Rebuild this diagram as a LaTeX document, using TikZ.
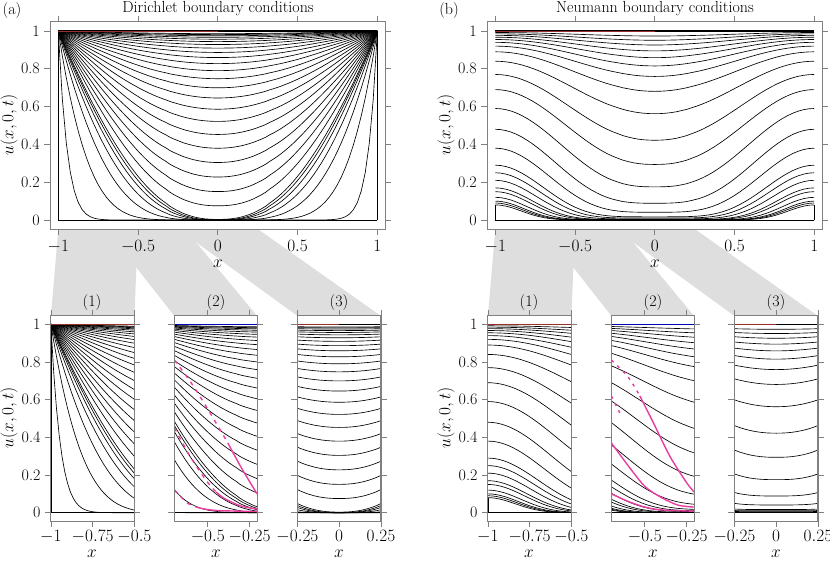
\documentclass[tikz,border=0pt]{standalone}
\usepackage{fontspec}
\begin{document}
\begin{tikzpicture}[x=1pt,y=-1pt,font=\fontsize{16}{19}\selectfont,
 declare function={
  G(\a,\c,\e,\p,\w)=\c+(\e-\c)*exp(max(\p*ln(max((1-cos(\w*\a))/(1-cos(\w)),0.0001)),-12));}]
\tikzset{fr/.style={draw=black!50,line width=1.1pt},tk/.style={draw=black!50,line width=0.8pt},
 cv/.style={black,line width=0.65pt},mg/.style={draw={rgb,255:red,235;green,60;blue,160},line width=1.4pt},
 gz/.style={fill=black!13},rl/.style={draw={rgb,255:red,150;green,50;blue,40},line width=0.5pt}}
\useasboundingbox (0,0) rectangle (830,562);
% gray zooms
\foreach \o in {0,437}{
 \begin{scope}[xshift=\o]
 \fill[gz] (58.3,229)--(138,229)--(134.4,316)--(50.9,316)--cycle;
 \fill[gz] (106.2,229)--(185.1,229)--(257.1,316)--(174.4,316)--cycle;
 \fill[gz] (177.9,229)--(257.7,229)--(381,316)--(297.5,316)--cycle;
 \node at (92,303) {(1)};\node at (216,303) {(2)};\node at (339,303) {(3)};
 \node at (218,264) {$x$};
 \foreach \xx in {92,216,339}{\node[inner sep=1pt] at (\xx,554) {$x$};}
 \node[rotate=90] at (9,125) {$u(x,0,t)$};
 \node[rotate=90] at (9,418) {$u(x,0,t)$};
 \end{scope}}
\node at (12,11) {(a)};\node at (449,11) {(b)};
\node at (218,9) {Dirichlet boundary conditions};
\node at (655,9) {Neumann boundary conditions};
\newcommand\myaxes[7]{%
 \fill[white] (#1-#3,-#4) rectangle (#2+#3,1+#4);
 \foreach \v in {0,0.2,0.4,0.6,0.8,1}{
  \draw[tk] (#1-#3,\v)--++(-6pt,0); \draw[tk] (#2+#3,\v)--++(6pt,0);}
 \ifnum#6=1
 \foreach \v/\l in {0/0,0.2/0.2,0.4/0.4,0.6/0.6,0.8/0.8,1/1}{
  \node[anchor=east] at ([xshift=-7pt]#1-#3,\v) {\l};}\fi
 \foreach \u/\l in {#5}{
  \draw[tk] (\u,-#4)--++(0,-6pt); \draw[tk] (\u,1+#4)--++(0,6pt);
  \node[anchor=north,inner sep=1pt] at ([yshift=-#7]\u,-#4) {$\l$};}
}
\newcommand\myframe[4]{\draw[fr] (#1-#3,-#4) rectangle (#2+#3,1+#4);}
\newcommand\dcurves[3]{%
 \foreach \k in {1,...,30}{
  \pgfmathsetmacro\dd{0.045*\k}
  \pgfmathsetmacro\cc{max(0,1-1.273*exp(-2.467*\dd*\dd))}
  \pgfmathsetmacro\pp{1+0.02/(\dd*\dd)}
  \draw[cv] plot[domain=#1:#2,samples=#3] (\x,{G(\x,\cc,1,\pp,90)});}
 \draw[cv] (#1,0)--(#2,0); \draw[black,line width=1.3pt] (#1,1)--(#2,1);}
\newcommand\ncurves[3]{%
 \foreach \e in {0.08,0.09,0.10,0.12,0.15,0.17,0.21,0.25,0.29,0.38,0.48,0.59,0.69,0.77,0.84,0.89,0.92,0.94,0.955,0.967,0.977,0.985,0.992}{
  \pgfmathsetmacro\cc{exp(3.3*ln(\e))}
  \pgfmathsetmacro\pp{0.35+0.6/\e}
  \draw[cv] plot[domain=#1:#2,samples=#3] (\x,{G(\x,\cc,\e,\pp,180)});}
 \draw[cv] (#1,0)--(#2,0); \draw[black,line width=1.3pt] (#1,1)--(#2,1);}
% ---- top left
\begin{scope}[shift={(217.8,220)},x=159.5pt,y=189pt]
 \myaxes{-1}{1}{0.05}{0.048}{-1/-1,-0.5/-0.5,0/0,0.5/0.5,1/1}{1}{10pt}
 \dcurves{-1}{1}{81}
 \draw[cv] (-1,0)--(-1,1) (1,0)--(1,1);
 \draw[rl] (-1,1)--(0,1);
 \myframe{-1}{1}{0.05}{0.048}
\end{scope}
% ---- top right
\begin{scope}[shift={(654.8,220)},x=159.5pt,y=189pt]
 \myaxes{-1}{1}{0.05}{0.048}{-1/-1,-0.5/-0.5,0/0,0.5/0.5,1/1}{1}{10pt}
 \ncurves{-1}{1}{61}
 \draw[cv] (-1,0)--(-1,0.08) (1,0)--(1,0.08);
 \draw[rl] (-1,1)--(0,1);
 \myframe{-1}{1}{0.05}{0.048}
\end{scope}
% ---- bottom panels
\foreach \o/\type in {0/d,437/n}{
\begin{scope}[xshift=\o]
\begin{scope}[shift={(217.9,512.7)},x=167pt,y=188.4pt]
 \myaxes{-1}{-0.5}{0}{0.045}{-1/-1,-0.75/-0.75,-0.5/-0.5}{1}{8pt}
 \if\type d\dcurves{-1}{-0.5}{31}\draw[cv] (-1,0)--(-1,1);\else\ncurves{-1}{-0.5}{21}\draw[cv] (-1,0)--(-1,0.08);\fi
 \draw[rl] (-1,1)--(-0.5,1);
 \myframe{-1}{-0.5}{0}{0.045}
\end{scope}
\begin{scope}[shift={(291.3,512.7)},x=167pt,y=188.4pt]
 \myaxes{-0.7}{-0.205}{0}{0.045}{-0.5/-0.5,-0.25/-0.25}{0}{8pt}
 \if\type d\dcurves{-0.7}{-0.205}{25}
  \draw[mg,dashed,dash pattern=on 4pt off 5pt] plot[smooth] coordinates {(-0.7,0.81)(-0.6,0.69)(-0.5,0.55)(-0.38,0.37)};
  \draw[mg] plot[smooth] coordinates {(-0.38,0.37)(-0.3,0.24)(-0.205,0.1)};
  \draw[mg,dashed,dash pattern=on 4pt off 5pt] plot[smooth] coordinates {(-0.7,0.45)(-0.6,0.29)(-0.5,0.16)(-0.45,0.11)};
  \draw[mg] plot[smooth] coordinates {(-0.45,0.11)(-0.4,0.075)(-0.3,0.035)(-0.205,0.02)};
  \draw[mg,dashed,dash pattern=on 4pt off 5pt] plot[smooth] coordinates {(-0.7,0.12)(-0.62,0.05)(-0.55,0.025)};
  \draw[mg] plot[smooth] coordinates {(-0.55,0.025)(-0.45,0.012)(-0.205,0.006)};
 \else\ncurves{-0.7}{-0.205}{21}
  \draw[mg,dashed,dash pattern=on 3pt off 5pt] plot[smooth] coordinates {(-0.7,0.81)(-0.6,0.72)(-0.53,0.62)};
  \draw[mg] plot[smooth] coordinates {(-0.53,0.62)(-0.45,0.48)(-0.35,0.3)(-0.25,0.16)(-0.205,0.11)};
  \draw[mg,dashed,dash pattern=on 3pt off 5pt] plot[smooth] coordinates {(-0.7,0.62)(-0.65,0.53)};
  \draw[mg] plot[smooth] coordinates {(-0.7,0.37)(-0.6,0.25)(-0.5,0.14)(-0.4,0.08)(-0.3,0.04)(-0.205,0.03)};
  \draw[mg] plot[smooth] coordinates {(-0.7,0.1)(-0.6,0.06)(-0.5,0.03)(-0.4,0.015)(-0.205,0.008)};
 \fi
 \draw[blue!70!black,line width=1.2pt] (-0.7,1)--(-0.205,1);
 \myframe{-0.7}{-0.205}{0}{0.045}
\end{scope}
\begin{scope}[shift={(339.2,512.7)},x=167pt,y=188.4pt]
 \myaxes{-0.25}{0.25}{0}{0.045}{-0.25/-0.25,0/0,0.25/0.25}{0}{8pt}
 \if\type d\dcurves{-0.25}{0.25}{21}\else\ncurves{-0.25}{0.25}{17}\fi
 \draw[rl] (-0.25,1)--(0,1);
 \myframe{-0.25}{0.25}{0}{0.045}
\end{scope}
\end{scope}}
\end{tikzpicture}
\end{document}
